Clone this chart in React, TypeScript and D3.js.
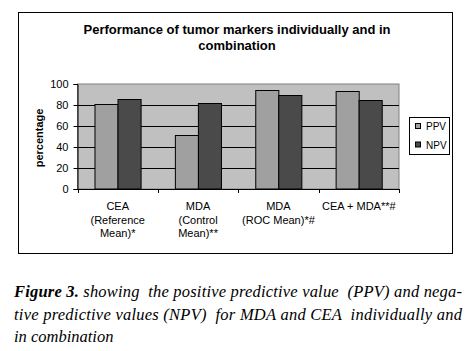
import { useEffect, useRef } from "react";
import * as d3 from "d3";

const categories = ["CEA", "MDA1", "MDA2", "CEAMDA"];
const categoryLabels = [
  ["CEA", "(Reference", "Mean)*"],
  ["MDA", "(Control", "Mean)**"],
  ["MDA", "(ROC Mean)*#"],
  ["CEA + MDA**#"],
];
const seriesNames = ["PPV", "NPV"];
const ppv = [81, 51, 94, 93];
const npv = [86, 82, 90, 85];
const yTicks = [0, 20, 40, 60, 80, 100];
const seriesColors = ["#a0a0a0", "#4a4a4a"];

const captionLines = [
  "showing  the positive predictive value  (PPV) and nega-",
  "tive predictive values (NPV)  for MDA and CEA  individually and",
  "in combination",
];

export default function App() {
  const svgRef = useRef<SVGSVGElement>(null);

  useEffect(() => {
    if (!svgRef.current) return;
    const svg = d3.select(svgRef.current);
    svg.selectAll("*").remove();

    const sans = "'Liberation Sans', Arial, sans-serif";
    const serif = "'Liberation Serif', 'Times New Roman', serif";
    const plot = { left: 77.5, right: 399, top: 84, bottom: 189 };

    // outer chart frame
    svg.append("rect")
      .attr("x", 18.5).attr("y", 12.5)
      .attr("width", 434).attr("height", 241)
      .attr("fill", "white").attr("stroke", "black").attr("stroke-width", 1);

    // title
    const title = svg.append("text")
      .attr("text-anchor", "middle")
      .attr("font-family", sans)
      .attr("font-size", 13)
      .attr("font-weight", "bold");
    title.append("tspan").attr("x", 237).attr("y", 33.5).text("Performance of tumor markers individually and in");
    title.append("tspan").attr("x", 237).attr("y", 49.5).text("combination");

    const x = d3.scaleBand<string>().domain(categories).range([plot.left, plot.right]);
    const xInner = d3.scaleBand<string>().domain(seriesNames)
      .range([0, x.bandwidth()]).paddingInner(0).paddingOuter(0.74);
    const y = d3.scaleLinear().domain([0, 100]).range([plot.bottom, plot.top]);

    // plot background
    svg.append("rect")
      .attr("x", plot.left).attr("y", plot.top)
      .attr("width", plot.right - plot.left).attr("height", plot.bottom - plot.top)
      .attr("fill", "#c0c0c0").attr("stroke", "#808080");

    // gridlines
    svg.append("g")
      .selectAll("line")
      .data(yTicks.filter(t => t > 0 && t < 100))
      .join("line")
      .attr("x1", plot.left).attr("x2", plot.right)
      .attr("y1", d => Math.round(y(d)) + 0.5).attr("y2", d => Math.round(y(d)) + 0.5)
      .attr("stroke", "black");

    // bars
    const rows = categories.map((c, i) => ({ c, vals: [ppv[i], npv[i]] }));
    const groups = svg.append("g")
      .selectAll("g")
      .data(rows)
      .join("g")
      .attr("transform", d => `translate(${x(d.c)},0)`);
    groups.selectAll("rect")
      .data(d => d.vals.map((v, j) => ({ v, s: seriesNames[j], j })))
      .join("rect")
      .attr("x", d => Math.round(xInner(d.s)!) + 0.5)
      .attr("width", xInner.bandwidth())
      .attr("y", d => Math.round(y(d.v)) + 0.5)
      .attr("height", d => plot.bottom - Math.round(y(d.v)) - 0.5)
      .attr("fill", d => seriesColors[d.j])
      .attr("stroke", "black");

    // y axis
    const yAxis = svg.append("g")
      .attr("transform", `translate(${plot.left},0)`)
      .call(d3.axisLeft(y).tickValues(yTicks).tickSize(4).tickPadding(5))
      .attr("font-family", sans)
      .attr("font-size", 11);
    yAxis.select(".domain").attr("stroke", "black");
    yAxis.selectAll("text").attr("fill", "black");

    // x axis
    const xAxis = svg.append("g")
      .attr("transform", `translate(0,${plot.bottom})`);
    xAxis.append("line")
      .attr("x1", plot.left).attr("x2", plot.right)
      .attr("y1", 0.5).attr("y2", 0.5).attr("stroke", "black");
    xAxis.selectAll("line.tick")
      .data(categories.map(c => x(c)!).concat([plot.right]))
      .join("line")
      .attr("class", "tick")
      .attr("x1", d => Math.round(d) + 0.5).attr("x2", d => Math.round(d) + 0.5)
      .attr("y1", 0).attr("y2", 4)
      .attr("stroke", "black");
    xAxis.selectAll("text")
      .data(categories)
      .join("text")
      .attr("text-anchor", "middle")
      .attr("font-family", sans)
      .attr("font-size", 11)
      .each(function (c, i) {
        const t = d3.select(this);
        categoryLabels[i].forEach((line, k) => {
          t.append("tspan")
            .attr("x", x(c)! + x.bandwidth() / 2)
            .attr("y", 21 + k * 13.5)
            .text(line);
        });
      });

    // y axis title
    svg.append("text")
      .attr("transform", "translate(42.5,138) rotate(-90)")
      .attr("text-anchor", "middle")
      .attr("font-family", sans)
      .attr("font-size", 11)
      .attr("font-weight", "bold")
      .text("percentage");

    // legend
    const legend = svg.append("g");
    legend.append("rect")
      .attr("x", 409.5).attr("y", 117.5).attr("width", 40).attr("height", 37)
      .attr("fill", "white").attr("stroke", "black");
    seriesNames.forEach((s, i) => {
      const ly = 126.5 + i * 18.5;
      legend.append("rect")
        .attr("x", 415.5).attr("y", ly - 3).attr("width", 5).attr("height", 5)
        .attr("fill", seriesColors[i]).attr("stroke", "black");
      legend.append("text")
        .attr("x", 426).attr("y", ly + 3.5)
        .attr("font-family", sans).attr("font-size", 10)
        .text(s);
    });

    // caption
    const cap = svg.append("g")
      .attr("font-family", serif)
      .attr("font-size", 16.5)
      .attr("font-style", "italic");
    const first = cap.append("text")
      .attr("x", 14).attr("y", 297)
      .attr("textLength", 448).attr("lengthAdjust", "spacing")
      .attr("xml:space", "preserve");
    first.append("tspan").attr("font-weight", "bold").text("Figure 3.");
    first.append("tspan").text(" " + captionLines[0]);
    cap.append("text")
      .attr("x", 14).attr("y", 319.5)
      .attr("textLength", 448).attr("lengthAdjust", "spacing")
      .attr("xml:space", "preserve")
      .text(captionLines[1]);
    cap.append("text")
      .attr("x", 14).attr("y", 341.5)
      .text(captionLines[2]);
  }, []);

  return (
    <svg
      ref={svgRef}
      width={472}
      height={351}
      style={{ position: "absolute", left: 0, top: 0, background: "white" }}
    />
  );
}
